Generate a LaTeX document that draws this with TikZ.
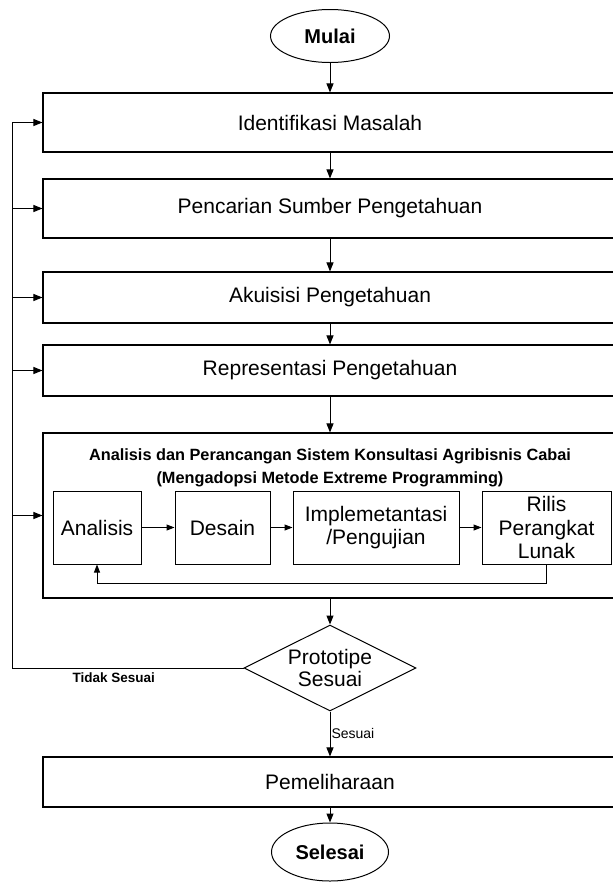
\documentclass[tikz,border=0pt]{standalone}
\usepackage{fontspec}
\setmainfont{Liberation Sans}
\usepackage{tikz}
\usetikzlibrary{positioning, arrows.meta, shapes.geometric}
\tikzstyle{stage} = [rectangle, minimum width=574pt, text centered, draw=black, line width=1.1pt, font=\fontsize{21}{23.5}\selectfont]
\tikzstyle{task} = [rectangle, minimum height=73pt, align=center, inner sep=1pt, draw=black, line width=1pt, font=\fontsize{21}{23.5}\selectfont]
\tikzstyle{terminal} = [ellipse, minimum width=119pt, minimum height=53pt, inner sep=0pt, draw=black, line width=1pt, font=\bfseries\fontsize{20}{23}\selectfont]
\tikzstyle{decision} = [diamond, aspect=2, minimum width=172pt, minimum height=86pt, inner sep=0pt, align=center, draw=black, line width=1pt, font=\fontsize{21}{22}\selectfont]
\tikzstyle{arrow} = [line width=1pt, -{Triangle[length=9pt,width=7pt]}]
\tikzstyle{smallarrow} = [line width=1pt, -{Triangle[length=8pt,width=6pt]}]
\tikzstyle{caption} = [font=\fontsize{14}{16}\selectfont, inner sep=1pt]

\begin{document}
\begin{tikzpicture}[x=1pt, y=-1pt, node distance=80pt, on grid]
	\useasboundingbox (0,0) rectangle (613,884);
	\clip (0,0) rectangle (613,884);
	
	\node (start) [terminal] at (330,36) {Mulai};
	\node (identify) [stage, minimum height=59pt, below=86.5pt of start] {Identifikasi Masalah};
	\node (source) [stage, minimum height=59pt, below=86pt of identify] {Pencarian Sumber Pengetahuan};
	\node (acquire) [stage, minimum height=51pt, below=89pt of source] {Akuisisi Pengetahuan};
	\node (represent) [stage, minimum height=51pt, below=73pt of acquire] {Representasi Pengetahuan};
	
	\node (xpbox) [stage, minimum height=165pt, below=145pt of represent] {};
	\node (xptitle) [font=\bfseries\fontsize{16.3}{23}\selectfont, align=center, below=13pt of xpbox.north] {Analisis dan Perancangan Sistem Konsultasi Agribisnis Cabai\\(Mengadopsi Metode Extreme Programming)};
	
	\node (analisis) [task, minimum width=88pt] at (97,527.5) {Analisis};
	\node (desain) [task, minimum width=95pt, right=125.5pt of analisis] {Desain};
	\node (impl) [task, minimum width=166pt, right=153.5pt of desain] {Implemetantasi\\/Pengujian};
	\node (rilis) [task, minimum width=129pt, right=170.5pt of impl] {Rilis\\Perangkat\\Lunak};
	
	\node (decision) [decision, below=152.5pt of xpbox] {Prototipe\\Sesuai};
	\node (maintain) [stage, minimum height=50pt, below=114pt of decision] {Pemeliharaan};
	\node (finish) [terminal, minimum width=117pt, minimum height=58pt, below=70pt of maintain] {Selesai};
	
	\draw [arrow] (start) -- (identify);
	\draw [arrow] (identify) -- (source);
	\draw [arrow] (source) -- (acquire);
	\draw [arrow] (acquire) -- (represent);
	\draw [arrow] (represent) -- (xpbox);
	\draw [arrow] (xpbox) -- (decision);
	\draw [arrow] (decision) -- node[caption, right] {Sesuai} (maintain);
	\draw [arrow] (maintain) -- (finish);
	
	\draw [smallarrow] (analisis) -- (desain);
	\draw [smallarrow] (desain) -- (impl);
	\draw [smallarrow] (impl) -- (rilis);
	\draw [smallarrow] (rilis.south) -- ++(0,19) -| (analisis.south);
	
	\coordinate (back) at (12,668);
	\draw [arrow] (decision.west) -- node[caption, font=\bfseries\fontsize{13.5}{16}\selectfont, below=3pt, pos=0.56] {Tidak Sesuai} (back) |- (identify.west);
	\foreach \n in {source, acquire, represent, xpbox}
		\draw [arrow] (back |- \n.west) -- (\n.west);
	
\end{tikzpicture}
\end{document}
